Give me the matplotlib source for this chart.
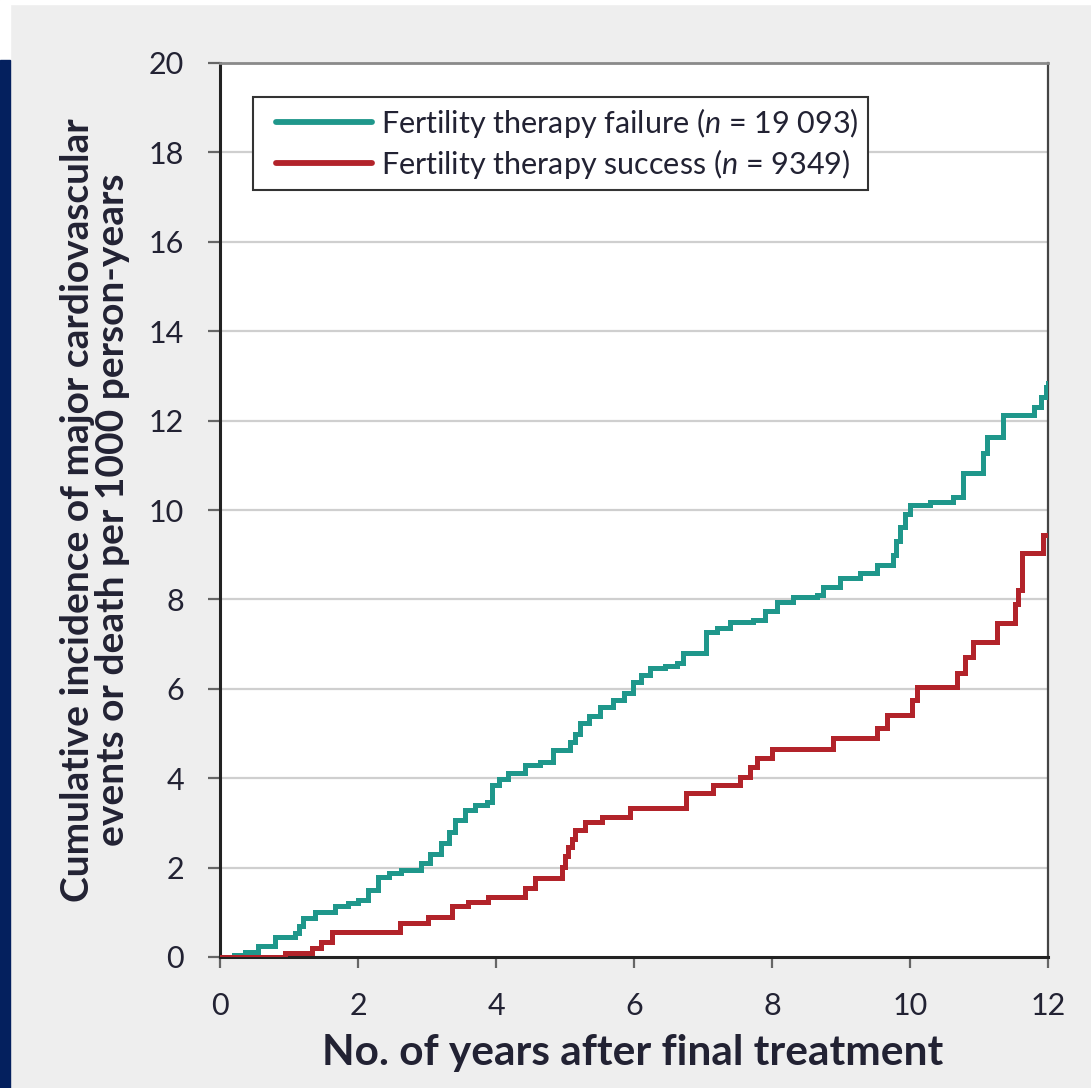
import matplotlib
matplotlib.use('Agg')
import matplotlib.pyplot as plt
from matplotlib.patches import Rectangle
from matplotlib.legend_handler import HandlerLine2D

# cumulative incidence curves (years, events per 1000 person-years)
failure_years = [0, 0.2, 0.36, 0.55, 0.8, 1.09, 1.15, 1.2, 1.38, 1.67, 1.85, 2.0, 2.15, 2.29,
                 2.45, 2.63, 2.92, 3.05, 3.21, 3.32, 3.41, 3.55, 3.7, 3.87, 3.94, 4.05, 4.17,
                 4.42, 4.64, 4.83, 5.07, 5.15, 5.22, 5.35, 5.51, 5.7, 5.85, 5.99, 6.1, 6.23,
                 6.45, 6.62, 6.71, 7.05, 7.2, 7.39, 7.73, 7.9, 8.07, 8.31, 8.65, 8.74, 8.99,
                 9.28, 9.52, 9.76, 9.8, 9.86, 9.93, 10.0, 10.29, 10.63, 10.77, 11.06, 11.11,
                 11.35, 11.8, 11.9, 11.97, 12.0]
failure_values = [0, 0.05, 0.12, 0.25, 0.45, 0.53, 0.7, 0.87, 1.01, 1.13, 1.2, 1.27, 1.5, 1.8,
                  1.88, 1.95, 2.1, 2.3, 2.55, 2.8, 3.06, 3.29, 3.4, 3.47, 3.85, 3.98, 4.11,
                  4.3, 4.37, 4.63, 4.82, 5.0, 5.23, 5.4, 5.6, 5.75, 5.9, 6.16, 6.3, 6.46,
                  6.5, 6.57, 6.8, 7.28, 7.35, 7.5, 7.54, 7.75, 7.95, 8.06, 8.1, 8.28, 8.47,
                  8.58, 8.77, 8.99, 9.3, 9.63, 9.9, 10.11, 10.19, 10.3, 10.83, 11.27, 11.64,
                  12.13, 12.3, 12.53, 12.75, 12.84]

success_years = [0, 0.94, 1.33, 1.47, 1.62, 2.61, 3.01, 3.36, 3.6, 3.88, 4.42, 4.57, 4.95,
                 5.0, 5.04, 5.1, 5.14, 5.29, 5.53, 5.94, 6.76, 7.15, 7.54, 7.68, 7.78, 8.0,
                 8.89, 9.52, 9.66, 10.03, 10.1, 10.68, 10.8, 10.92, 11.26, 11.52, 11.57,
                 11.62, 11.93, 12.0]
success_values = [0, 0.1, 0.2, 0.34, 0.57, 0.76, 0.9, 1.13, 1.24, 1.35, 1.54, 1.76, 2.02,
                  2.25, 2.47, 2.65, 2.84, 3.03, 3.14, 3.33, 3.66, 3.85, 4.03, 4.24, 4.45,
                  4.66, 4.9, 5.12, 5.41, 5.75, 6.05, 6.35, 6.72, 7.05, 7.47, 7.9, 8.21,
                  9.03, 9.44, 9.44]

failure_label = 'Fertility therapy failure ($\\it{n}$ = 19 093)'
success_label = 'Fertility therapy success ($\\it{n}$ = 9349)'
x_ticks = [0, 2, 4, 6, 8, 10, 12]
y_ticks = [0, 2, 4, 6, 8, 10, 12, 14, 16, 18, 20]

TEAL = '#1f978b'
RED = '#b2232a'
TEXT = '#222233'

plt.rcParams['font.family'] = ['Lato', 'DejaVu Sans']
plt.rcParams['mathtext.fontset'] = 'custom'
plt.rcParams['mathtext.it'] = 'Lato:italic'

fig = plt.figure(figsize=(10.91, 10.88), dpi=100, facecolor='#eeeeee')

# page decoration: white margins and the navy strip on the left
fig.patches.append(Rectangle((0, 1 - 4 / 1088), 1, 4 / 1088, transform=fig.transFigure,
                             color='white', zorder=0))
fig.patches.append(Rectangle((0, 1 - 60 / 1088), 10 / 1091, 60 / 1088, transform=fig.transFigure,
                             color='white', zorder=0))
fig.patches.append(Rectangle((0, 0), 10 / 1091, 1 - 60 / 1088, transform=fig.transFigure,
                             color='#04205e', zorder=0))

ax = fig.add_axes([220 / 1091, 1 - 957 / 1088, 828 / 1091, 894 / 1088])
ax.set_facecolor('white')

for y in y_ticks[1:-1]:
    ax.axhline(y, color='#cfcfcf', lw=1.6, zorder=1)

ax.plot(failure_years, failure_values, drawstyle='steps-post', color=TEAL, lw=3.6,
        label=failure_label, zorder=3, solid_joinstyle='miter')
ax.plot(success_years, success_values, drawstyle='steps-post', color=RED, lw=3.6,
        label=success_label, zorder=3, solid_joinstyle='miter')

ax.set_xlim(0, 12)
ax.set_ylim(0, 20)
ax.set_xticks(x_ticks)
ax.set_yticks(y_ticks)

ax.spines['left'].set_color('#222222')
ax.spines['left'].set_linewidth(2.2)
ax.spines['bottom'].set_color('#222222')
ax.spines['bottom'].set_linewidth(2.2)
ax.spines['right'].set_color('#444444')
ax.spines['right'].set_linewidth(1.6)
ax.spines['top'].set_color('#8a8a8a')
ax.spines['top'].set_linewidth(2.0)

ax.tick_params(axis='y', direction='out', length=9, width=1.6, color='#666666',
               pad=17, labelsize=22, labelcolor=TEXT)
ax.tick_params(axis='x', direction='out', length=8, width=1.6, color='#666666',
               pad=17, labelsize=22, labelcolor=TEXT)

ax.set_xlabel('No. of years after final treatment', fontsize=30.5, fontweight='bold',
              color=TEXT)
ax.xaxis.set_label_coords(0.498, -0.086)
ax.set_ylabel('Cumulative incidence of major cardiovascular\nevents or death per 1000 person-years',
              fontsize=28, fontweight='bold', color=TEXT, linespacing=1.0)
ax.yaxis.set_label_coords(-0.109, 0.5)

handler = HandlerLine2D(xpad=0.45)
leg = ax.legend(loc='upper left', bbox_to_anchor=(0.04, 0.962), borderaxespad=0,
                fontsize=22, handlelength=3.6, handletextpad=0.3, labelspacing=0.22,
                borderpad=0.3, fancybox=False, framealpha=1, edgecolor='#333333',
                handler_map={matplotlib.lines.Line2D: handler})
leg.get_frame().set_linewidth(1.5)
for line in leg.get_lines():
    line.set_linewidth(4.2)
    line.set_solid_capstyle('round')
for t in leg.get_texts():
    t.set_color(TEXT)

fig.savefig('out.png', dpi=100, facecolor=fig.get_facecolor())
